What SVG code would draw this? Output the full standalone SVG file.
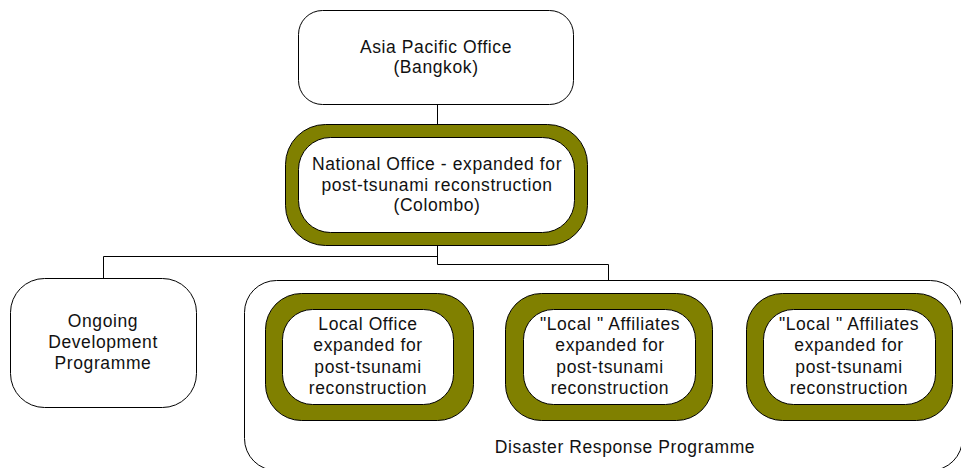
<svg xmlns="http://www.w3.org/2000/svg" width="961" height="468" viewBox="0 0 961 468">
  <style>
    .plain { fill: #ffffff; stroke: #000000; stroke-width: 1; }
    .band { fill: #808000; stroke: #000000; stroke-width: 1; }
    .core { fill: #ffffff; stroke: #000000; stroke-width: 1; }
    .wire { fill: none; stroke: #000000; stroke-width: 1; }
    text { font-family: "Liberation Sans", Arial, sans-serif; font-size: 17.5px; letter-spacing: 0.6px; fill: #111111; text-anchor: middle; }
  </style>
  <rect width="961" height="468" fill="#ffffff"/>

  <!-- container for the disaster response programme -->
  <g id="disaster-response">
    <rect class="plain" x="244.5" y="280.5" width="718" height="190" rx="32" ry="32"/>
    <text x="625" y="453">Disaster Response Programme</text>
  </g>

  <!-- connectors -->
  <g id="connectors">
    <path class="wire" d="M437.5 105 V124"/>
    <path class="wire" d="M437.5 245 V264.5 H608.5 V280"/>
    <path class="wire" d="M437.5 256.5 H103.5 V278"/>
  </g>

  <g id="asia-pacific">
    <rect class="plain" x="298.5" y="10.5" width="275" height="94" rx="24" ry="24"/>
    <text x="436" y="53">Asia Pacific Office</text>
    <text x="436" y="73">(Bangkok)</text>
  </g>

  <g id="national-office">
    <rect class="band" x="285.5" y="124.5" width="302" height="121" rx="40" ry="40"/>
    <rect class="core" x="298.5" y="137.5" width="276" height="95" rx="32" ry="32"/>
    <text x="437" y="170">National Office - expanded for</text>
    <text x="437" y="190.5">post-tsunami reconstruction</text>
    <text x="437" y="211">(Colombo)</text>
  </g>

  <g id="ongoing-development">
    <rect class="plain" x="10.5" y="278.5" width="186" height="129" rx="34" ry="34"/>
    <text x="103" y="327">Ongoing</text>
    <text x="103" y="348">Development</text>
    <text x="103" y="369">Programme</text>
  </g>

  <g id="local-office">
    <rect class="band" x="265.5" y="293.5" width="208" height="127" rx="36" ry="36"/>
    <rect class="core" x="282.5" y="309.5" width="171" height="95" rx="30" ry="30"/>
    <text x="368" y="330">Local Office</text>
    <text x="368" y="351">expanded for</text>
    <text x="368" y="373">post-tsunami</text>
    <text x="368" y="394">reconstruction</text>
  </g>

  <g id="local-affiliates-1">
    <rect class="band" x="505.5" y="293.5" width="207" height="127" rx="36" ry="36"/>
    <rect class="core" x="523.5" y="309.5" width="172" height="95" rx="30" ry="30"/>
    <text x="610" y="330">"Local " Affiliates</text>
    <text x="610" y="351">expanded for</text>
    <text x="610" y="373">post-tsunami</text>
    <text x="610" y="394">reconstruction</text>
  </g>

  <g id="local-affiliates-2">
    <rect class="band" x="746.5" y="293.5" width="206" height="127" rx="36" ry="36"/>
    <rect class="core" x="763.5" y="309.5" width="172" height="95" rx="30" ry="30"/>
    <text x="849" y="330">"Local " Affiliates</text>
    <text x="849" y="351">expanded for</text>
    <text x="849" y="373">post-tsunami</text>
    <text x="849" y="394">reconstruction</text>
  </g>
</svg>
